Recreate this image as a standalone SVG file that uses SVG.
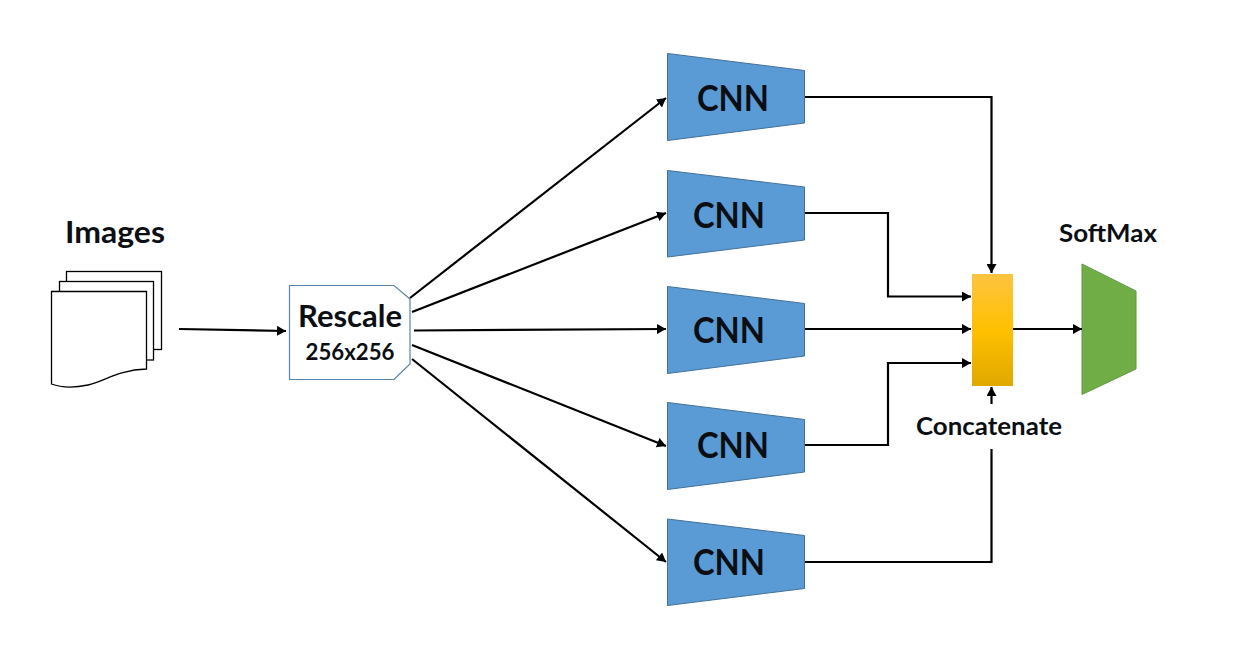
<svg xmlns="http://www.w3.org/2000/svg" width="1242" height="672" viewBox="0 0 1242 672">
<style>
text{font-family:Lato,"Open Sans",Arial,sans-serif;font-weight:700;fill:#0b0f14;text-anchor:middle}
.cnn{fill:#5b9bd5;stroke:#41719c;stroke-width:1}
.cnnt{font-size:36px}
.page{fill:#fff;stroke:#000;stroke-width:1.3}
.c{fill:none;stroke:#000;stroke-width:2.2}
.a{marker-end:url(#ah)}
</style>
<defs>
<marker id="ah" markerUnits="userSpaceOnUse" markerWidth="10" markerHeight="10" refX="9" refY="5" orient="auto"><path d="M0 0L9 5L0 10Z" fill="#000"/></marker>
<linearGradient id="cg" x1="0" y1="0" x2="0" y2="1"><stop offset="0" stop-color="#fdc441"/><stop offset=".5" stop-color="#ffc000"/><stop offset="1" stop-color="#e0a800"/></linearGradient>
</defs>
<rect width="1242" height="672" fill="#fff"/>
<g id="images">
<rect class="page" x="66.5" y="271.5" width="95" height="78"/>
<rect class="page" x="59.5" y="281.5" width="94" height="78.5"/>
<path class="page" d="M51.5 291.5H146.5V369C118 370 105 381 88 385C74 388 62 388 51.5 384Z"/>
<text x="115" y="243" font-size="31" textLength="100" lengthAdjust="spacingAndGlyphs">Images</text>
</g>
<g id="rescale">
<path d="M289.5 285.5H394L410 299V364L394 379.500H289.5Z" fill="#fff" stroke="#5b84a8" stroke-width="1.2"/>
<text x="350" y="327" font-size="30" textLength="104" lengthAdjust="spacingAndGlyphs">Rescale</text>
<text x="350" y="360" font-size="22" textLength="89" lengthAdjust="spacingAndGlyphs">256x256</text>
</g>
<g id="cnn1"><path class="cnn" d="M667.5 53.5L804.5 70.5V123L667.5 140.5Z"/><text class="cnnt" x="733" y="110.500" textLength="72" lengthAdjust="spacingAndGlyphs">CNN</text></g>
<g id="cnn2"><path class="cnn" d="M667.5 170.5L804.5 187V240L667.5 257Z"/><text class="cnnt" x="729" y="227.500" textLength="72" lengthAdjust="spacingAndGlyphs">CNN</text></g>
<g id="cnn3"><path class="cnn" d="M667.5 286.5L804.5 303.5V356L667.5 373.5Z"/><text class="cnnt" x="729" y="342.500" textLength="72" lengthAdjust="spacingAndGlyphs">CNN</text></g>
<g id="cnn4"><path class="cnn" d="M667.5 402.5L804.5 419.5V472L667.5 489.5Z"/><text class="cnnt" x="733" y="457.500" textLength="72" lengthAdjust="spacingAndGlyphs">CNN</text></g>
<g id="cnn5"><path class="cnn" d="M667.5 519L804.5 535.5V588.5L667.5 605.5Z"/><text class="cnnt" x="729" y="574.500" textLength="72" lengthAdjust="spacingAndGlyphs">CNN</text></g>
<g id="concat"><rect x="972" y="274" width="41" height="112" fill="url(#cg)"/><text x="989" y="435" font-size="25" textLength="146" lengthAdjust="spacingAndGlyphs">Concatenate</text></g>
<g id="softmax"><path d="M1082 264L1136 291V369L1082 394.5Z" fill="#70ad47" stroke="#5f9a3b"/><text x="1108" y="241.500" font-size="25" textLength="98" lengthAdjust="spacingAndGlyphs">SoftMax</text></g>
<g id="connectors">
<path class="c a" d="M179 329L286 331"/>
<path class="c a" d="M410 298L666 98"/>
<path class="c a" d="M412 312L666 213"/>
<path class="c a" d="M414 330.500L666 329"/>
<path class="c a" d="M412 345L666 446"/>
<path class="c a" d="M412 359L666 562"/>
<path class="c a" d="M805 97H991.500V273"/>
<path class="c a" d="M805 213H888V296.500H971"/>
<path class="c a" d="M805 329H971"/>
<path class="c a" d="M805 445H888V363H971"/>
<path class="c" d="M805 562H991.500V449"/>
<path class="c a" d="M991.500 404V387"/>
<path class="c a" d="M1013 329H1082"/>
</g>
</svg>
